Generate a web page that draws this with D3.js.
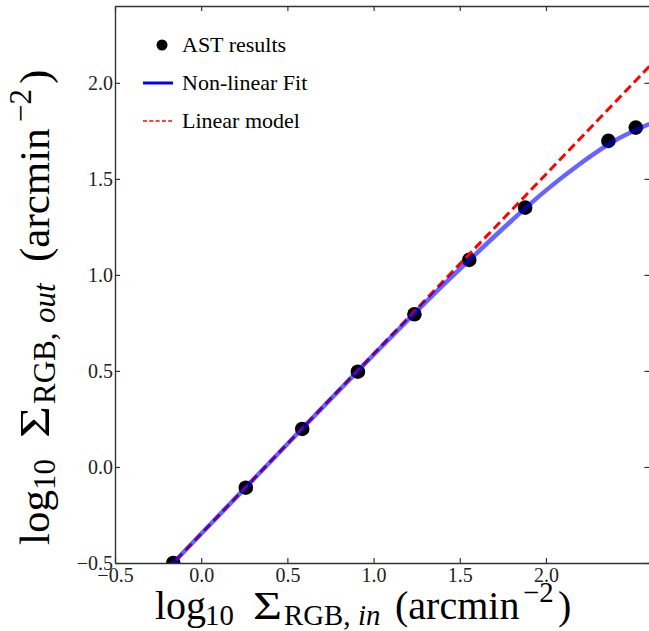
<!DOCTYPE html>
<html><head><meta charset="utf-8">
<script src="https://cdn.jsdelivr.net/npm/d3@7"></script>
<style>body{margin:0;background:#fff}svg{display:block}</style>
</head><body>
<script>
// Artificial-star-test measurements
const astX = [-0.162, 0.259, 0.586, 0.909, 1.237, 1.555, 1.879, 2.362, 2.521];
const astY = [-0.500, -0.108, 0.198, 0.496, 0.795, 1.078, 1.350, 1.698, 1.767];
// Non-linear fit, sampled
const fitX = [-0.2, 0.0, 0.2, 0.4, 0.6, 0.8, 1.0, 1.2, 1.4, 1.6, 1.8, 2.0, 2.2, 2.4, 2.6];
const fitY = [-0.535, -0.348, -0.161, 0.026, 0.213, 0.399, 0.584, 0.766, 0.944, 1.115, 1.282, 1.44, 1.58, 1.70, 1.786];
// Linear model end points
const linX = [-0.2, 2.6];
const linY = [-0.535, 2.086];
const xTicks = [-0.5, 0.0, 0.5, 1.0, 1.5, 2.0];
const yTicks = [-0.5, 0.0, 0.5, 1.0, 1.5, 2.0];
const legendLabels = ["AST results", "Non-linear Fit", "Linear model"];

const W = 649, H = 631;
const L = 115, T = 6, R = 649.4, B = 563;
const FONT = "'Liberation Serif', 'DejaVu Serif', serif";

const svg = d3.select("body").append("svg").attr("width", W).attr("height", H)
  .style("font-family", FONT);

const x = d3.scaleLinear().domain([-0.5, 2.6]).range([L, R]);
const y = d3.scaleLinear().domain([-0.5, 2.4]).range([B, T]);

svg.append("clipPath").attr("id", "plot").append("rect")
  .attr("x", L).attr("y", T).attr("width", R - L).attr("height", B - T);

const g = svg.append("g").attr("clip-path", "url(#plot)");

// data points
g.selectAll("circle.ast").data(astX.map((v, i) => [v, astY[i]])).join("circle")
  .attr("class", "ast").attr("cx", d => x(d[0])).attr("cy", d => y(d[1]))
  .attr("r", 7.3).attr("fill", "#000");

const line = d3.line().x(d => x(d[0])).y(d => y(d[1]));

g.append("path").datum(linX.map((v, i) => [v, linY[i]]))
  .attr("d", line).attr("fill", "none").attr("stroke", "#ff0000")
  .attr("stroke-width", 3).attr("stroke-dasharray", "9,4.5");

g.append("path").datum(fitX.map((v, i) => [v, fitY[i]]))
  .attr("d", line.curve(d3.curveNatural)).attr("fill", "none")
  .attr("stroke", "#0000ff").attr("stroke-opacity", 0.6).attr("stroke-width", 4.5);

// axes (ticks pointing inward on all four sides)
const fmt = d3.format(".1f");
const tickLen = 5;
const axB = svg.append("g").attr("transform", `translate(0,${B})`)
  .call(d3.axisBottom(x).tickValues(xTicks).tickFormat(fmt).tickSizeInner(-tickLen).tickSizeOuter(0).tickPadding(5));
const axT = svg.append("g").attr("transform", `translate(0,${T})`)
  .call(d3.axisTop(x).tickValues(xTicks).tickFormat("").tickSizeInner(-tickLen).tickSizeOuter(0));
const axL = svg.append("g").attr("transform", `translate(${L},0)`)
  .call(d3.axisLeft(y).tickValues(yTicks).tickFormat(fmt).tickSizeInner(-tickLen).tickSizeOuter(0).tickPadding(2));
const axR = svg.append("g").attr("transform", `translate(${R},0)`)
  .call(d3.axisRight(y).tickValues(yTicks).tickFormat("").tickSizeInner(-tickLen).tickSizeOuter(0));

[axB, axT, axL, axR].forEach(a => {
  a.select(".domain").attr("stroke", "#333").attr("stroke-width", 1.4);
  a.selectAll(".tick line").attr("stroke", "#333").attr("stroke-width", 1.2);
  a.selectAll("text").attr("font-family", FONT).attr("font-size", 20).attr("fill", "#222");
});

// axis titles: each piece placed along the baseline, with sub/superscripts
function richLabel(sel, parts, size) {
  const t = sel.append("text").attr("font-size", size).attr("fill", "#000");
  parts.forEach(p => {
    const ts = t.append("tspan").text(p.t).attr("x", p.at)
      .attr("y", p.sub ? size * 0.15 : p.sup ? -size * 0.42 : 0);
    if (p.sub || p.sup) ts.attr("font-size", size * 0.72);
    if (p.it) ts.attr("font-style", "italic");
    if (p.len) ts.attr("textLength", p.len).attr("lengthAdjust", "spacingAndGlyphs");
  });
  return t;
}

richLabel(svg.append("g").attr("transform", "translate(155,619)"), [
  {t: "log", at: 0}, {t: "10", sub: true, at: 50}, {t: "Σ", at: 98, len: 29},
  {t: "RGB,", sub: true, at: 129}, {t: "in", sub: true, it: true, at: 203},
  {t: "(arcmin", at: 240}, {t: "−2", sup: true, at: 368}, {t: ")", at: 403}
], 40);

richLabel(svg.append("g").attr("transform", "translate(49,545) rotate(-90)"), [
  {t: "log", at: 0}, {t: "10", sub: true, at: 55}, {t: "Σ", at: 107, len: 32},
  {t: "RGB,", sub: true, at: 141}, {t: "out", sub: true, it: true, at: 222},
  {t: "(arcmin", at: 283}, {t: "−2", sup: true, at: 423}, {t: ")", at: 461}
], 43);

// legend
const lg = svg.append("g").attr("font-size", 22);
lg.append("circle").attr("cx", 162).attr("cy", 45).attr("r", 5.5).attr("fill", "#000");
lg.append("line").attr("x1", 143).attr("x2", 173).attr("y1", 83).attr("y2", 83)
  .attr("stroke", "#0000ff").attr("stroke-width", 3);
lg.append("line").attr("x1", 143).attr("x2", 172).attr("y1", 121).attr("y2", 121)
  .attr("stroke", "#ff0000").attr("stroke-width", 1.5).attr("stroke-dasharray", "4,2.3");
legendLabels.forEach((s, i) => {
  lg.append("text").attr("x", 182).attr("y", 52 + i * 38).text(s).attr("fill", "#000");
});
</script>
</body></html>
